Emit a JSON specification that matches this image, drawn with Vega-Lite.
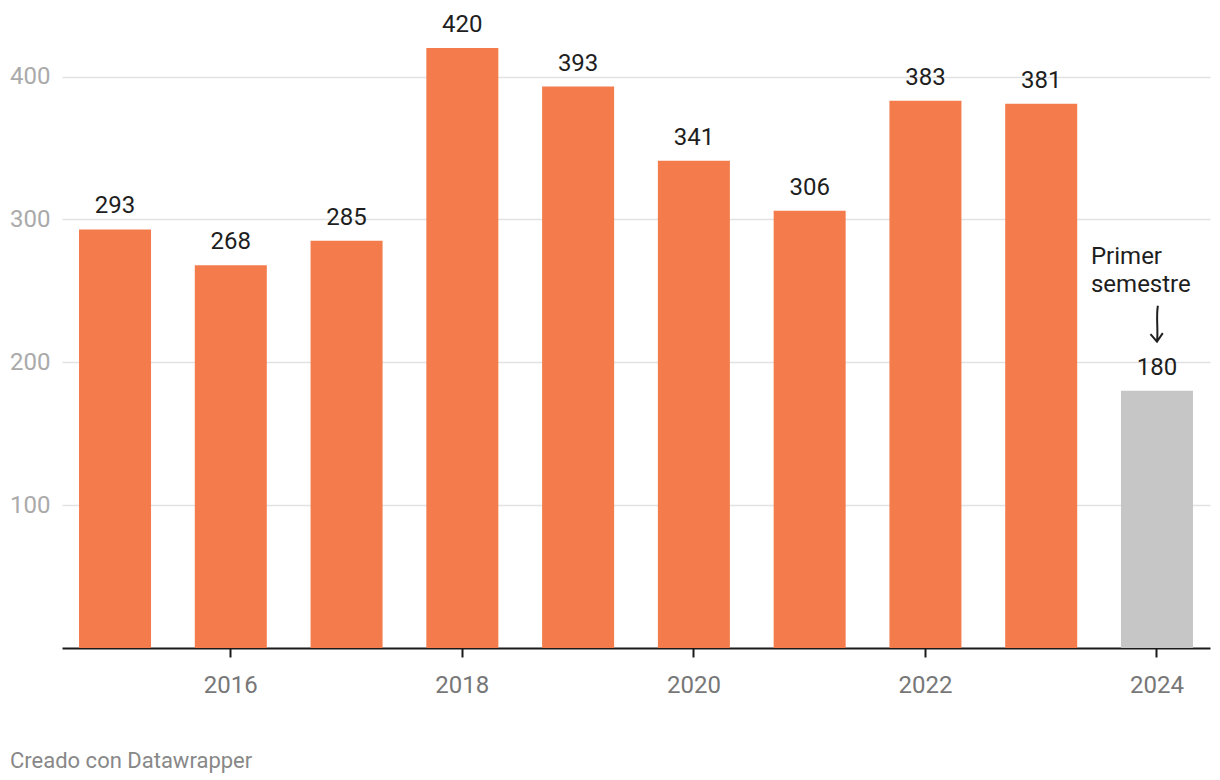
{
  "$schema": "https://vega.github.io/schema/vega-lite/v6.json",
  "width": 1148,
  "height": 600,
  "autosize": {"type": "none"},
  "padding": {"left": 62, "top": 48, "right": 10, "bottom": 132},
  "background": "#ffffff",
  "config": {
    "font": "Roboto",
    "view": {"stroke": null}
  },
  "title": {
    "text": "Creado con Datawrapper",
    "orient": "bottom",
    "anchor": "start",
    "frame": "group",
    "dx": -52,
    "offset": 54,
    "font": "Roboto",
    "fontSize": 22,
    "fontWeight": "normal",
    "color": "#888888"
  },
  "datasets": {
    "bars": [
      {"year": 2015, "value": 293, "periodo": "completo"},
      {"year": 2016, "value": 268, "periodo": "completo"},
      {"year": 2017, "value": 285, "periodo": "completo"},
      {"year": 2018, "value": 420, "periodo": "completo"},
      {"year": 2019, "value": 393, "periodo": "completo"},
      {"year": 2020, "value": 341, "periodo": "completo"},
      {"year": 2021, "value": 306, "periodo": "completo"},
      {"year": 2022, "value": 383, "periodo": "completo"},
      {"year": 2023, "value": 381, "periodo": "completo"},
      {"year": 2024, "value": 180, "periodo": "parcial"}
    ],
    "note": [
      {"year": 2024, "label": ["Primer", "semestre"], "textpos": 269, "arrowpos": 227}
    ]
  },
  "layer": [
    {
      "data": {"name": "bars"},
      "mark": {"type": "bar"},
      "encoding": {
        "x": {
          "field": "year",
          "type": "ordinal",
          "scale": {"paddingInner": 0.378, "paddingOuter": 0.147},
          "axis": {
            "title": null,
            "values": [2016, 2018, 2020, 2022, 2024],
            "labelAngle": 0,
            "labelFont": "Roboto",
            "labelFontSize": 24,
            "labelColor": "#777777",
            "labelPadding": 16,
            "tickSize": 9,
            "tickWidth": 2,
            "tickColor": "#1a1a1a",
            "domainColor": "#1a1a1a",
            "domainWidth": 2,
            "grid": false
          }
        },
        "y": {
          "field": "value",
          "type": "quantitative",
          "scale": {"domain": [0, 420], "nice": false},
          "axis": {
            "title": null,
            "values": [100, 200, 300, 400],
            "domain": false,
            "ticks": false,
            "labelFont": "Roboto",
            "labelFontSize": 24,
            "labelColor": "#aaaaaa",
            "labelPadding": 12,
            "grid": true,
            "gridColor": "#e2e2e2",
            "gridWidth": 1.5
          }
        },
        "color": {
          "field": "periodo",
          "type": "nominal",
          "scale": {"domain": ["completo", "parcial"], "range": ["#f47b4b", "#c6c6c6"]},
          "legend": null
        }
      }
    },
    {
      "data": {"name": "bars"},
      "mark": {"type": "text", "baseline": "alphabetic", "dy": -16, "font": "Roboto", "fontSize": 24, "color": "#1e1e1e"},
      "encoding": {
        "x": {"field": "year", "type": "ordinal"},
        "y": {"field": "value", "type": "quantitative"},
        "text": {"field": "value", "type": "quantitative"}
      }
    },
    {
      "data": {"name": "note"},
      "mark": {"type": "text", "align": "left", "baseline": "alphabetic", "dx": -66, "lineHeight": 28, "font": "Roboto", "fontSize": 24, "color": "#1e1e1e"},
      "encoding": {
        "x": {"field": "year", "type": "ordinal"},
        "y": {"field": "textpos", "type": "quantitative"},
        "text": {"field": "label"}
      }
    },
    {
      "data": {"name": "note"},
      "mark": {
        "type": "point",
        "shape": "M0.05,-1 C-0.06,-0.4 0.08,0.4 0,1 M-0.36,0.58 L0,1 L0.32,0.52",
        "size": 1296,
        "filled": false,
        "stroke": "#1e1e1e",
        "strokeWidth": 2,
        "opacity": 1
      },
      "encoding": {
        "x": {"field": "year", "type": "ordinal"},
        "y": {"field": "arrowpos", "type": "quantitative"}
      }
    }
  ]
}
